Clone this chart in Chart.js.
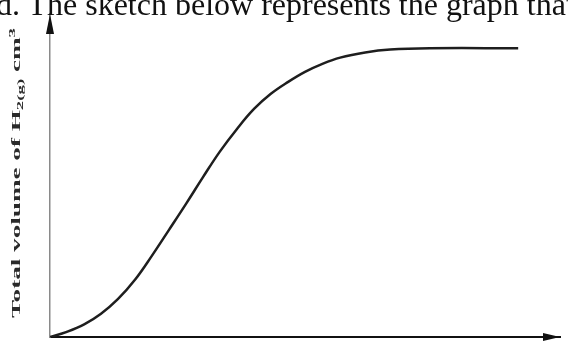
<!DOCTYPE html>
<html>
<head>
<meta charset="utf-8">
<script src="https://cdn.jsdelivr.net/npm/chart.js@4"></script>
<style>
  html, body { margin: 0; padding: 0; background: #fff; }
  #wrap { position: relative; width: 568px; height: 345px; overflow: hidden; }
  #heading {
    position: absolute; left: -4px; top: -12px; white-space: nowrap;
    font-family: "Liberation Serif", "Times New Roman", serif;
    font-size: 32px; line-height: 32px; color: #111;
  }
  canvas { position: absolute; left: 0; top: 0; }
</style>
</head>
<body>
<div id="wrap">
  <canvas id="sketch" width="568" height="345"></canvas>
  <div id="heading">d. The sketch below represents the graph that</div>
</div>
<script>
// volume of hydrogen collected against time (sketch, no units on x)
const timeValues = [0, 3.3, 6.7, 10.0, 13.3, 16.7, 20.0, 23.3, 26.7, 30.0, 33.3, 36.7, 40.0, 43.3, 46.7, 50.0, 53.3, 56.9, 61.8, 66.7, 74.5, 91.8];
const volumeValues = [0, 1.6, 3.9, 7.2, 11.7, 17.8, 25.2, 33.1, 41.3, 49.5, 57.4, 64.5, 70.6, 75.3, 79.0, 82.1, 84.5, 86.5, 88.1, 89.0, 89.4, 89.4];
const yTitleParts = [
  { text: 'Total volume of H', sub: false },
  { text: '2(g)', sub: true },
  { text: ' cm', sub: false },
  { text: '3', sup: true }
];

var points = [];
for (i = 0; i < timeValues.length; i++) {
  points.push({ x: timeValues[i], y: volumeValues[i] });
}

// arrowheads on both axes
const axisArrows = {
  id: 'axisArrows',
  afterDraw(chart) {
    const ctx = chart.ctx;
    const x0 = chart.scales.x.getPixelForValue(0);
    const y0 = chart.scales.y.getPixelForValue(0);
    const yTop = chart.scales.y.getPixelForValue(100);
    const xEnd = chart.scales.x.getPixelForValue(100);
    ctx.save();
    ctx.fillStyle = '#111';
    ctx.beginPath();
    ctx.moveTo(x0, yTop);
    ctx.lineTo(x0 + 4, yTop + 20);
    ctx.lineTo(x0 - 4, yTop + 20);
    ctx.closePath();
    ctx.fill();
    ctx.beginPath();
    ctx.moveTo(xEnd, y0);
    ctx.lineTo(xEnd - 17, y0 - 4);
    ctx.lineTo(xEnd - 17, y0 + 4);
    ctx.closePath();
    ctx.fill();
    ctx.restore();
  }
};

// rotated, stretched y axis caption with subscript
const yCaption = {
  id: 'yCaption',
  afterDraw(chart) {
    const ctx = chart.ctx;
    const size = 13;
    const font = 'bold ' + size + 'px "Liberation Serif", serif';
    const small = 'bold ' + Math.round(size * 0.7) + 'px "Liberation Serif", serif';
    ctx.save();
    var total = 0;
    yTitleParts.forEach(p => {
      ctx.font = (p.sub || p.sup) ? small : font;
      total += ctx.measureText(p.text).width;
    });
    const span = 290;
    const stretch = span / total;
    ctx.translate(20, 318);
    ctx.rotate(-Math.PI / 2);
    ctx.scale(stretch, 1);
    ctx.fillStyle = '#2a2a2a';
    ctx.textBaseline = 'alphabetic';
    var x = 0;
    yTitleParts.forEach(p => {
      ctx.font = (p.sub || p.sup) ? small : font;
      var dy = p.sub ? 3 : (p.sup ? -5 : 0);
      ctx.fillText(p.text, x, dy);
      x += ctx.measureText(p.text).width;
    });
    ctx.restore();
  }
};

new Chart(document.getElementById('sketch'), {
  type: 'line',
  data: {
    datasets: [{
      data: points,
      borderColor: '#1e1e1e',
      borderWidth: 2.5,
      pointRadius: 0,
      fill: false,
      tension: 0.4
    }]
  },
  options: {
    responsive: false,
    animation: false,
    layout: { padding: { left: 42, right: 8, top: 14, bottom: 0 } },
    plugins: { legend: { display: false }, tooltip: { enabled: false } },
    scales: {
      x: {
        type: 'linear', min: 0, max: 100,
        ticks: { display: false },
        grid: { display: false },
        border: { display: true, color: '#111', width: 2 }
      },
      y: {
        min: 0, max: 100,
        ticks: { display: false },
        grid: { display: false },
        border: { display: true, color: '#8a8a8a', width: 1.5, dash: [3, 2] }
      }
    }
  },
  plugins: [axisArrows, yCaption]
});
</script>
</body>
</html>
